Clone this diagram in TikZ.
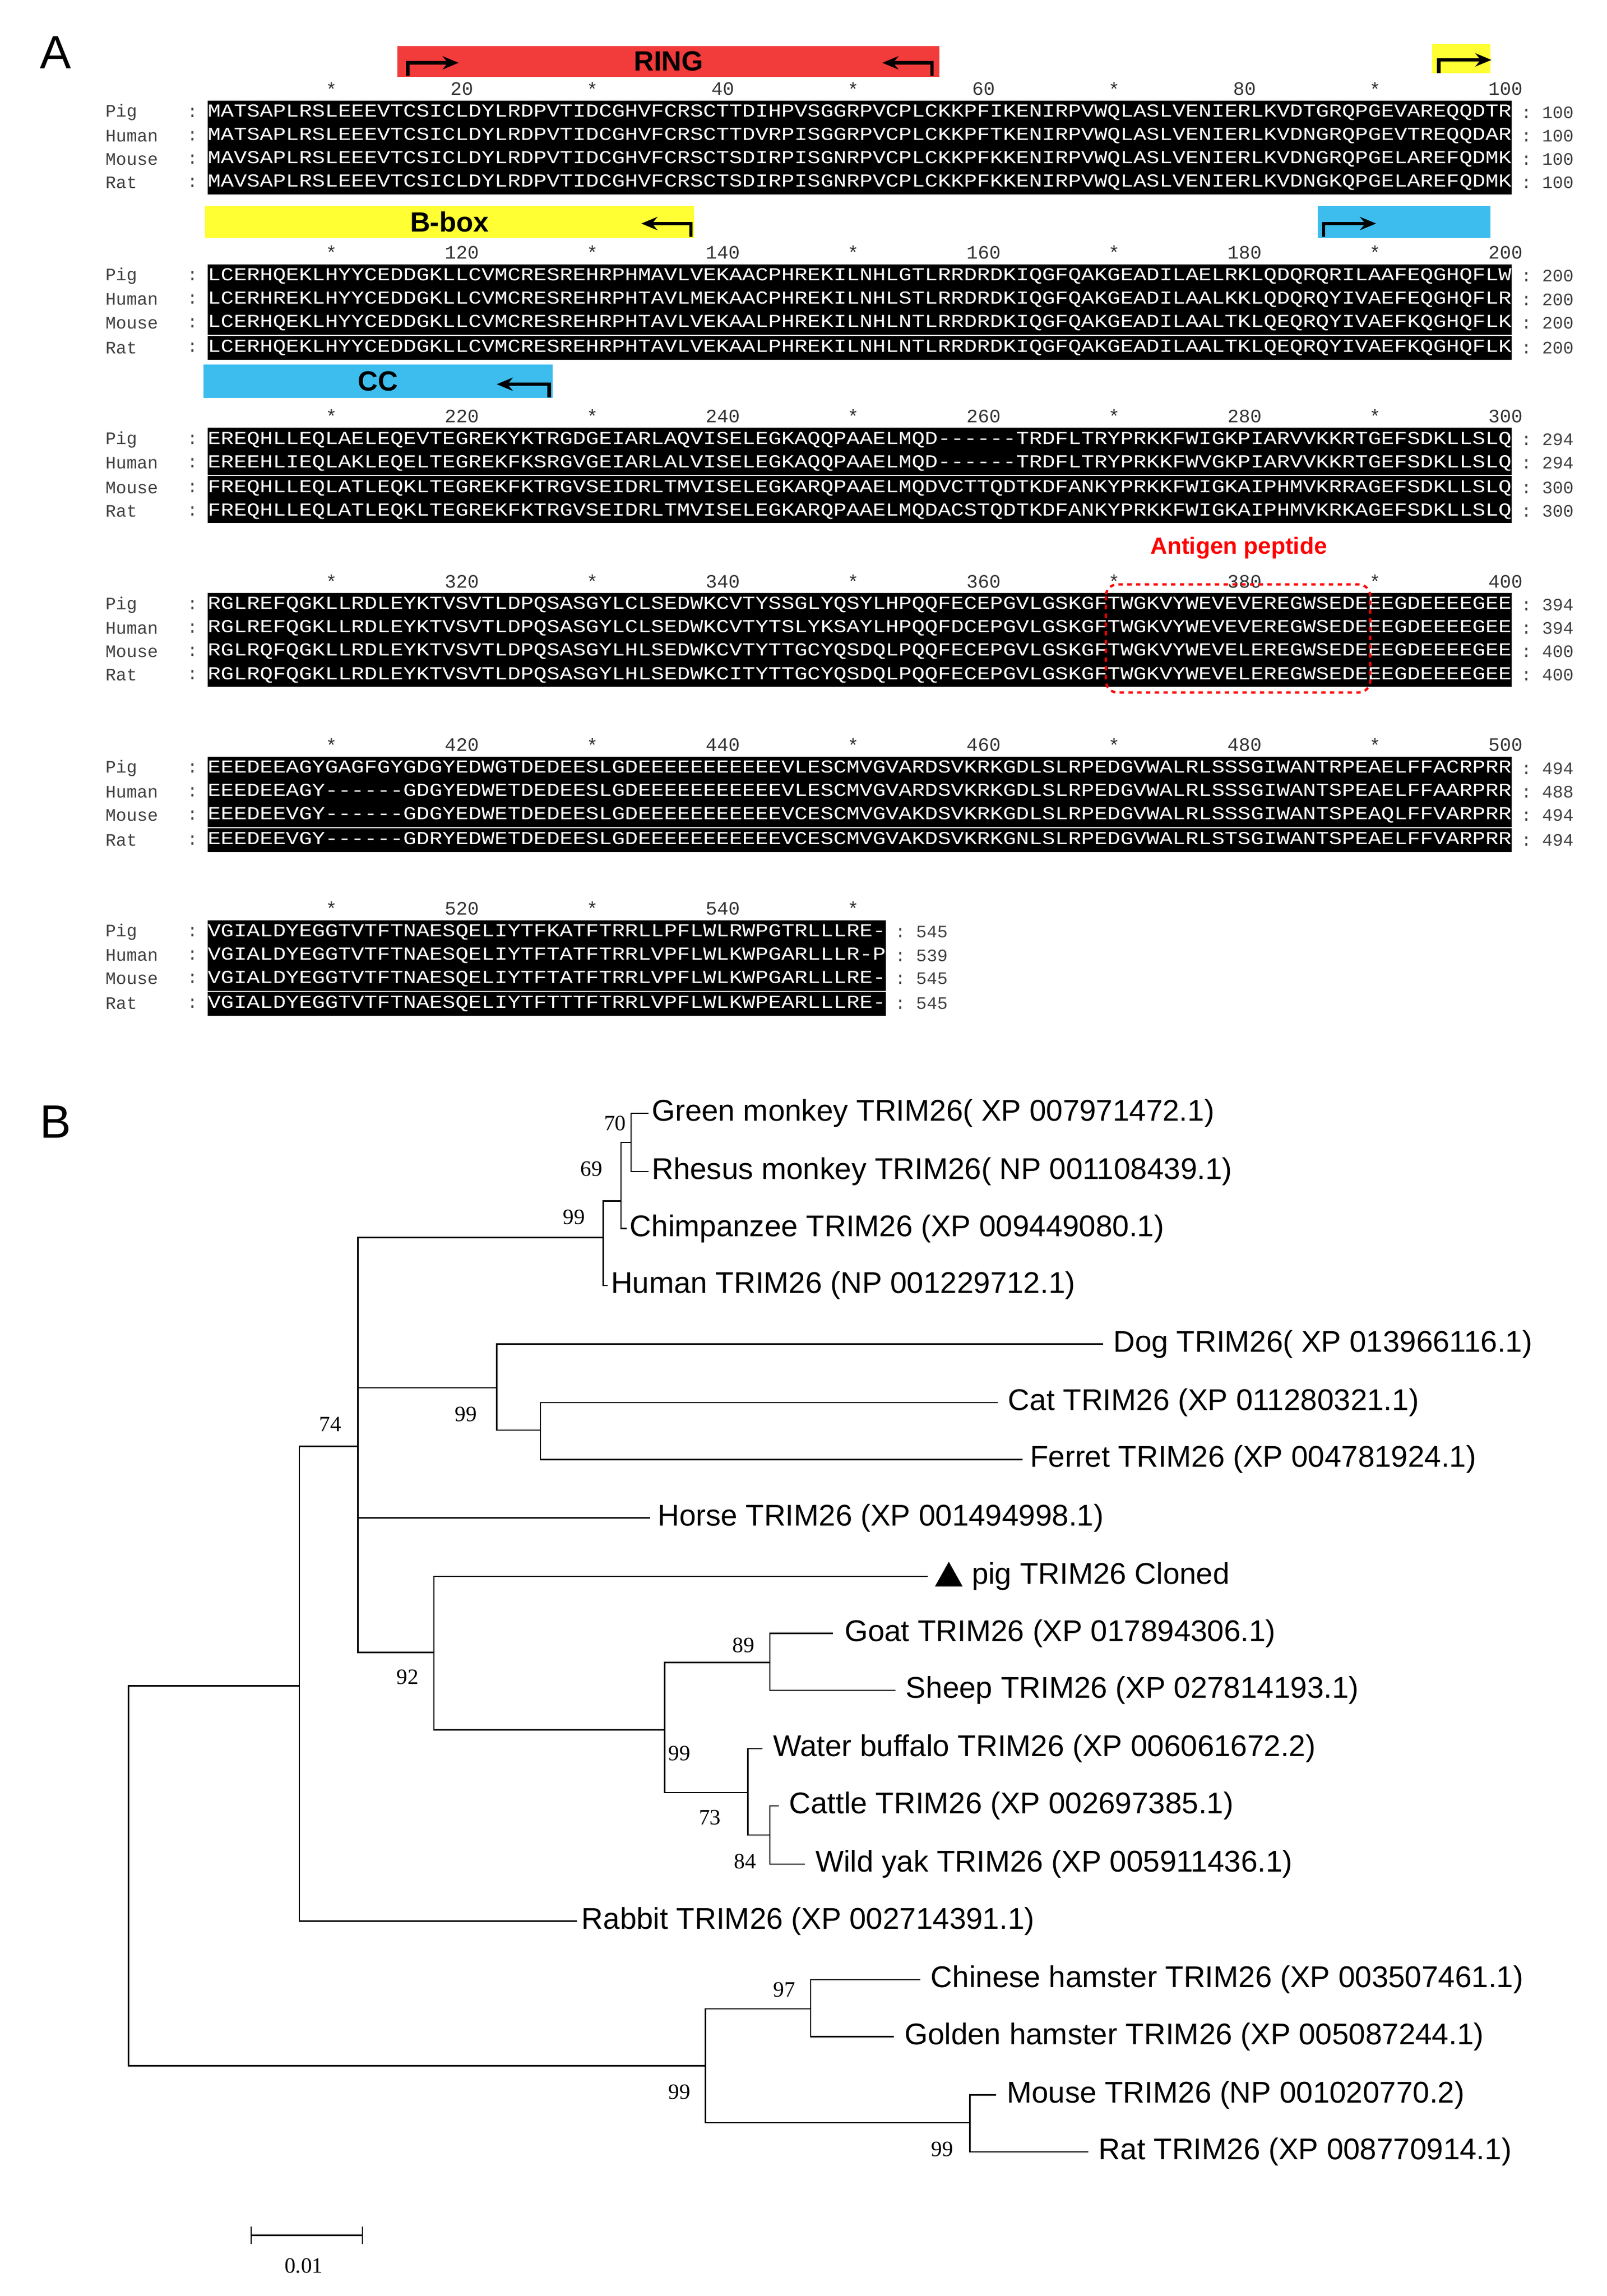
\documentclass[tikz,border=0pt]{standalone}
\usepackage{fontspec}
\setmainfont{Liberation Serif}
\setsansfont{Liberation Sans}
\setmonofont{Liberation Mono}
\usetikzlibrary{arrows.meta}
\definecolor{ringred}{HTML}{F23B3B}
\definecolor{boxyel}{HTML}{FFFF33}
\definecolor{cccyan}{HTML}{3CBDEE}
\tikzset{
 seqtxt/.style={anchor=west,fill=black,text=white,inner xsep=0pt,inner ysep=0pt,minimum height=16.3pt,text height=8pt,text depth=2pt,font=\ttfamily\fontsize{12.5}{12}\selectfont},
 lbl/.style={anchor=west,inner sep=0pt,text=black!75,font=\ttfamily\fontsize{12}{12}\selectfont},
 endn/.style={anchor=west,inner sep=0pt,text=black!75,font=\ttfamily\fontsize{12}{12}\selectfont},
 rul/.style={inner sep=0pt,text=black!80,font=\ttfamily\fontsize{13}{13}\selectfont},
 dombar/.style={inner sep=0pt,font=\sffamily\bfseries\fontsize{19}{19}\selectfont},
 darr/.style={-{Stealth[length=11pt,width=9pt]},line width=2.4pt},
 leaf/.style={anchor=west,inner sep=0pt,font=\sffamily\fontsize{20.5}{20.5}\selectfont},
 boot/.style={inner sep=0pt,font=\rmfamily\fontsize{15}{15}\selectfont},
 tree/.style={line width=0.9pt},
 panel/.style={inner sep=0pt,font=\sffamily\fontsize{32}{32}\selectfont}
}
\newcommand\seqrow[6]{%
 \node[lbl] (#1l) at (72,#2) {#3};
 \node[lbl] (#1c) at (128,#2) {:};
 \node[seqtxt] (#1s) at (142,#2) {\scalebox{1.19}[1]{#4}};
 \node[endn] (#1e) at ([xshift=#6pt]#1s.east) {: #5};}
\newcommand\rulerrow[4]{%
 \foreach \k in {1,...,#3}{%
  \pgfmathtruncatemacro\lab{#2+10*\k}%
  \ifodd\k \node[rul] (#4\k) at ({142+8.93*(10*\k-0.5)},#1) {*};%
  \else \node[rul] (#4\k) at ({142+8.93*(10*\k-0.5)},#1) {\lab};\fi}}
\begin{document}
\begin{tikzpicture}[x=1pt,y=-1pt]
\useasboundingbox (0,0) rectangle (1100,1571.6);
\node[panel] (A) at (38,36) {A};
% domain bars
\node[dombar,fill=ringred,minimum width=371pt,minimum height=21pt,anchor=west] (ring) at (272,42) {RING};
\draw[darr] (279,52) -- (279,43) -- (314,43);
\draw[darr] (638,52) -- (638,43) -- (604,43);
\node[fill=boxyel,minimum width=40pt,minimum height=20pt,anchor=west,inner sep=0pt] (yb1) at (980,40) {};
\draw[darr] (985,50) -- (985,41) -- (1021,41);
\node[dombar,fill=boxyel,minimum width=335pt,minimum height=22pt,anchor=west] (bbox) at (140,152) {B-box};
\node[fill=cccyan,minimum width=118pt,minimum height=22pt,anchor=west,inner sep=0pt] (cc1) at (902,152) {};
\draw[darr] (473,162) -- (473,153) -- (439,153);
\draw[darr] (906,162) -- (906,153) -- (942,153);
\node[dombar,fill=cccyan,minimum width=239pt,minimum height=23pt,anchor=west] (cc) at (139,261) {CC};
\draw[darr] (376,272) -- (376,263) -- (340,263);
% block 1
\rulerrow{61}{0}{10}{ra}
\seqrow{a1}{77}{Pig}{MATSAPLRSLEEEVTCSICLDYLRDPVTIDCGHVFCRSCTTDIHPVSGGRPVCPLCKKPFIKENIRPVWQLASLVENIERLKVDTGRQPGEVAREQQDTR}{100}{6}
\seqrow{a2}{93}{Human}{MATSAPLRSLEEEVTCSICLDYLRDPVTIDCGHVFCRSCTTDVRPISGGRPVCPLCKKPFTKENIRPVWQLASLVENIERLKVDNGRQPGEVTREQQDAR}{100}{6}
\seqrow{a3}{109}{Mouse}{MAVSAPLRSLEEEVTCSICLDYLRDPVTIDCGHVFCRSCTSDIRPISGNRPVCPLCKKPFKKENIRPVWQLASLVENIERLKVDNGRQPGELAREFQDMK}{100}{6}
\seqrow{a4}{125}{Rat}{MAVSAPLRSLEEEVTCSICLDYLRDPVTIDCGHVFCRSCTSDIRPISGNRPVCPLCKKPFKKENIRPVWQLASLVENIERLKVDNGKQPGELAREFQDMK}{100}{6}
% block 2
\rulerrow{173}{100}{10}{rb}
\seqrow{b1}{189}{Pig}{LCERHQEKLHYYCEDDGKLLCVMCRESREHRPHMAVLVEKAACPHREKILNHLGTLRRDRDKIQGFQAKGEADILAELRKLQDQRQRILAAFEQGHQFLW}{200}{6}
\seqrow{b2}{205}{Human}{LCERHREKLHYYCEDDGKLLCVMCRESREHRPHTAVLMEKAACPHREKILNHLSTLRRDRDKIQGFQAKGEADILAALKKLQDQRQYIVAEFEQGHQFLR}{200}{6}
\seqrow{b3}{221}{Mouse}{LCERHQEKLHYYCEDDGKLLCVMCRESREHRPHTAVLVEKAALPHREKILNHLNTLRRDRDKIQGFQAKGEADILAALTKLQEQRQYIVAEFKQGHQFLK}{200}{6}
\seqrow{b4}{238}{Rat}{LCERHQEKLHYYCEDDGKLLCVMCRESREHRPHTAVLVEKAALPHREKILNHLNTLRRDRDKIQGFQAKGEADILAALTKLQEQRQYIVAEFKQGHQFLK}{200}{6}
% block 3
\rulerrow{285}{200}{10}{rc}
\seqrow{c1}{301}{Pig}{EREQHLLEQLAELEQEVTEGREKYKTRGDGEIARLAQVISELEGKAQQPAAELMQD------TRDFLTRYPRKKFWIGKPIARVVKKRTGEFSDKLLSLQ}{294}{6}
\seqrow{c2}{317}{Human}{EREEHLIEQLAKLEQELTEGREKFKSRGVGEIARLALVISELEGKAQQPAAELMQD------TRDFLTRYPRKKFWVGKPIARVVKKRTGEFSDKLLSLQ}{294}{6}
\seqrow{c3}{334}{Mouse}{FREQHLLEQLATLEQKLTEGREKFKTRGVSEIDRLTMVISELEGKARQPAAELMQDVCTTQDTKDFANKYPRKKFWIGKAIPHMVKRRAGEFSDKLLSLQ}{300}{6}
\seqrow{c4}{350}{Rat}{FREQHLLEQLATLEQKLTEGREKFKTRGVSEIDRLTMVISELEGKARQPAAELMQDACSTQDTKDFANKYPRKKFWIGKAIPHMVKRKAGEFSDKLLSLQ}{300}{6}
% block 4
\node[inner sep=0pt,text=red,font=\sffamily\bfseries\fontsize{16}{16}\selectfont] (ag) at (848,375) {Antigen peptide};
\rulerrow{398}{300}{10}{rd}
\seqrow{d1}{414}{Pig}{RGLREFQGKLLRDLEYKTVSVTLDPQSASGYLCLSEDWKCVTYSSGLYQSYLHPQQFECEPGVLGSKGFTWGKVYWEVEVEREGWSEDEEEGDEEEEGEE}{394}{6}
\seqrow{d2}{430}{Human}{RGLREFQGKLLRDLEYKTVSVTLDPQSASGYLCLSEDWKCVTYTSLYKSAYLHPQQFDCEPGVLGSKGFTWGKVYWEVEVEREGWSEDEEEGDEEEEGEE}{394}{6}
\seqrow{d3}{446}{Mouse}{RGLRQFQGKLLRDLEYKTVSVTLDPQSASGYLHLSEDWKCVTYTTGCYQSDQLPQQFECEPGVLGSKGFTWGKVYWEVELEREGWSEDEEEGDEEEEGEE}{400}{6}
\seqrow{d4}{462}{Rat}{RGLRQFQGKLLRDLEYKTVSVTLDPQSASGYLHLSEDWKCITYTTGCYQSDQLPQQFECEPGVLGSKGFTWGKVYWEVELEREGWSEDEEEGDEEEEGEE}{400}{6}
\draw[red,dashed,line width=1.6pt,rounded corners=8pt] (757,400) rectangle (938,474);
% block 5
\rulerrow{510}{400}{10}{re}
\seqrow{e1}{526}{Pig}{EEEDEEAGYGAGFGYGDGYEDWGTDEDEESLGDEEEEEEEEEEEVLESCMVGVARDSVKRKGDLSLRPEDGVWALRLSSSGIWANTRPEAELFFACRPRR}{494}{6}
\seqrow{e2}{542}{Human}{EEEDEEAGY------GDGYEDWETDEDEESLGDEEEEEEEEEEEVLESCMVGVARDSVKRKGDLSLRPEDGVWALRLSSSGIWANTSPEAELFFAARPRR}{488}{6}
\seqrow{e3}{558}{Mouse}{EEEDEEVGY------GDGYEDWETDEDEESLGDEEEEEEEEEEEVCESCMVGVAKDSVKRKGDLSLRPEDGVWALRLSSSGIWANTSPEAQLFFVARPRR}{494}{6}
\seqrow{e4}{575}{Rat}{EEEDEEVGY------GDRYEDWETDEDEESLGDEEEEEEEEEEEVCESCMVGVAKDSVKRKGNLSLRPEDGVWALRLSTSGIWANTSPEAELFFVARPRR}{494}{6}
% block 6
\rulerrow{622}{500}{5}{rf}
\seqrow{f1}{638}{Pig}{VGIALDYEGGTVTFTNAESQELIYTFKATFTRRLLPFLWLRWPGTRLLLRE-}{545}{6}
\seqrow{f2}{654}{Human}{VGIALDYEGGTVTFTNAESQELIYTFTATFTRRLVPFLWLKWPGARLLLR-P}{539}{6}
\seqrow{f3}{670}{Mouse}{VGIALDYEGGTVTFTNAESQELIYTFTATFTRRLVPFLWLKWPGARLLLRE-}{545}{6}
\seqrow{f4}{687}{Rat}{VGIALDYEGGTVTFTNAESQELIYTFTTTFTRRLVPFLWLKWPEARLLLRE-}{545}{6}
% ---------------- Panel B
\node[panel] (B) at (38,768) {B};
% leaves
\node[leaf] (l1) at (446,762) {Green monkey TRIM26( XP 007971472.1)};
\node[leaf] (l2) at (446,802) {Rhesus monkey TRIM26( NP 001108439.1)};
\node[leaf] (l3) at (431,841) {Chimpanzee TRIM26 (XP 009449080.1)};
\node[leaf] (l4) at (418,880) {Human TRIM26 (NP 001229712.1)};
\node[leaf] (l5) at (762,920) {Dog TRIM26( XP 013966116.1)};
\node[leaf] (l6) at (690,960) {Cat TRIM26 (XP 011280321.1)};
\node[leaf] (l7) at (705,999) {Ferret TRIM26 (XP 004781924.1)};
\node[leaf] (l8) at (450,1039) {Horse TRIM26 (XP 001494998.1)};
\node[leaf] (l9) at (665,1079) {pig TRIM26 Cloned};
\node[leaf] (l10) at (578,1118) {Goat TRIM26 (XP 017894306.1)};
\node[leaf] (l11) at (620,1157) {Sheep TRIM26 (XP 027814193.1)};
\node[leaf] (l12) at (529,1197) {Water buffalo TRIM26 (XP 006061672.2)};
\node[leaf] (l13) at (540,1236) {Cattle TRIM26 (XP 002697385.1)};
\node[leaf] (l14) at (558,1276) {Wild yak TRIM26 (XP 005911436.1)};
\node[leaf] (l15) at (398,1315) {Rabbit TRIM26 (XP 002714391.1)};
\node[leaf] (l16) at (637,1355) {Chinese hamster TRIM26 (XP 003507461.1)};
\node[leaf] (l17) at (619,1394) {Golden hamster TRIM26 (XP 005087244.1)};
\node[leaf] (l18) at (689,1434) {Mouse TRIM26 (NP 001020770.2)};
\node[leaf] (l19) at (752,1473) {Rat TRIM26 (XP 008770914.1)};
\fill (640,1086) -- (659,1086) -- (649.5,1069) -- cycle;
% tree
\draw[tree] (205,1154) -| (88,1414) -- (483,1414);
\draw[tree] (245,990) -| (205,1315) -- (395,1315);
\draw[tree] (413,847) -| (245,1131) -- (297,1131);
\draw[tree] (245,1039) -- (445,1039);
\draw[tree] (245,950) -- (340,950);
\draw[tree] (425,822) -| (413,880) -- (416,880);
\draw[tree] (432,782) -| (425,841) -- (429,841);
\draw[tree] (444,762) -| (432,802) -- (444,802);
\draw[tree] (755,920) -| (340,979) -- (370,979);
\draw[tree] (683,960) -| (370,999) -- (700,999);
\draw[tree] (635,1079) -| (297,1184) -- (455,1184);
\draw[tree] (527,1138) -| (455,1227) -- (512,1227);
\draw[tree] (570,1118) -| (527,1157) -- (613,1157);
\draw[tree] (522,1197) -| (512,1256) -- (527,1256);
\draw[tree] (533,1236) -| (527,1276) -- (551,1276);
\draw[tree] (555,1375) -| (483,1453) -- (664,1453);
\draw[tree] (630,1355) -| (555,1394) -- (612,1394);
\draw[tree] (682,1434) -| (664,1473) -- (745,1473);
% bootstrap
\node[boot] (b70) at (421,769) {70};
\node[boot] (b69) at (405,800) {69};
\node[boot] (b99a) at (393,833) {99};
\node[boot] (b74) at (226,975) {74};
\node[boot] (b99b) at (319,968) {99};
\node[boot] (b92) at (279,1148) {92};
\node[boot] (b89) at (509,1126) {89};
\node[boot] (b99c) at (465,1200) {99};
\node[boot] (b73) at (486,1244) {73};
\node[boot] (b84) at (510,1274) {84};
\node[boot] (b97) at (537,1362) {97};
\node[boot] (b99d) at (465,1432) {99};
\node[boot] (b99e) at (645,1471) {99};
% scale bar
\draw[tree] (172,1524) -- (172,1536) (172,1530) -- (248,1530) (248,1524) -- (248,1536);
\node[boot] (sc) at (208,1551) {0.01};
\end{tikzpicture}
\end{document}
